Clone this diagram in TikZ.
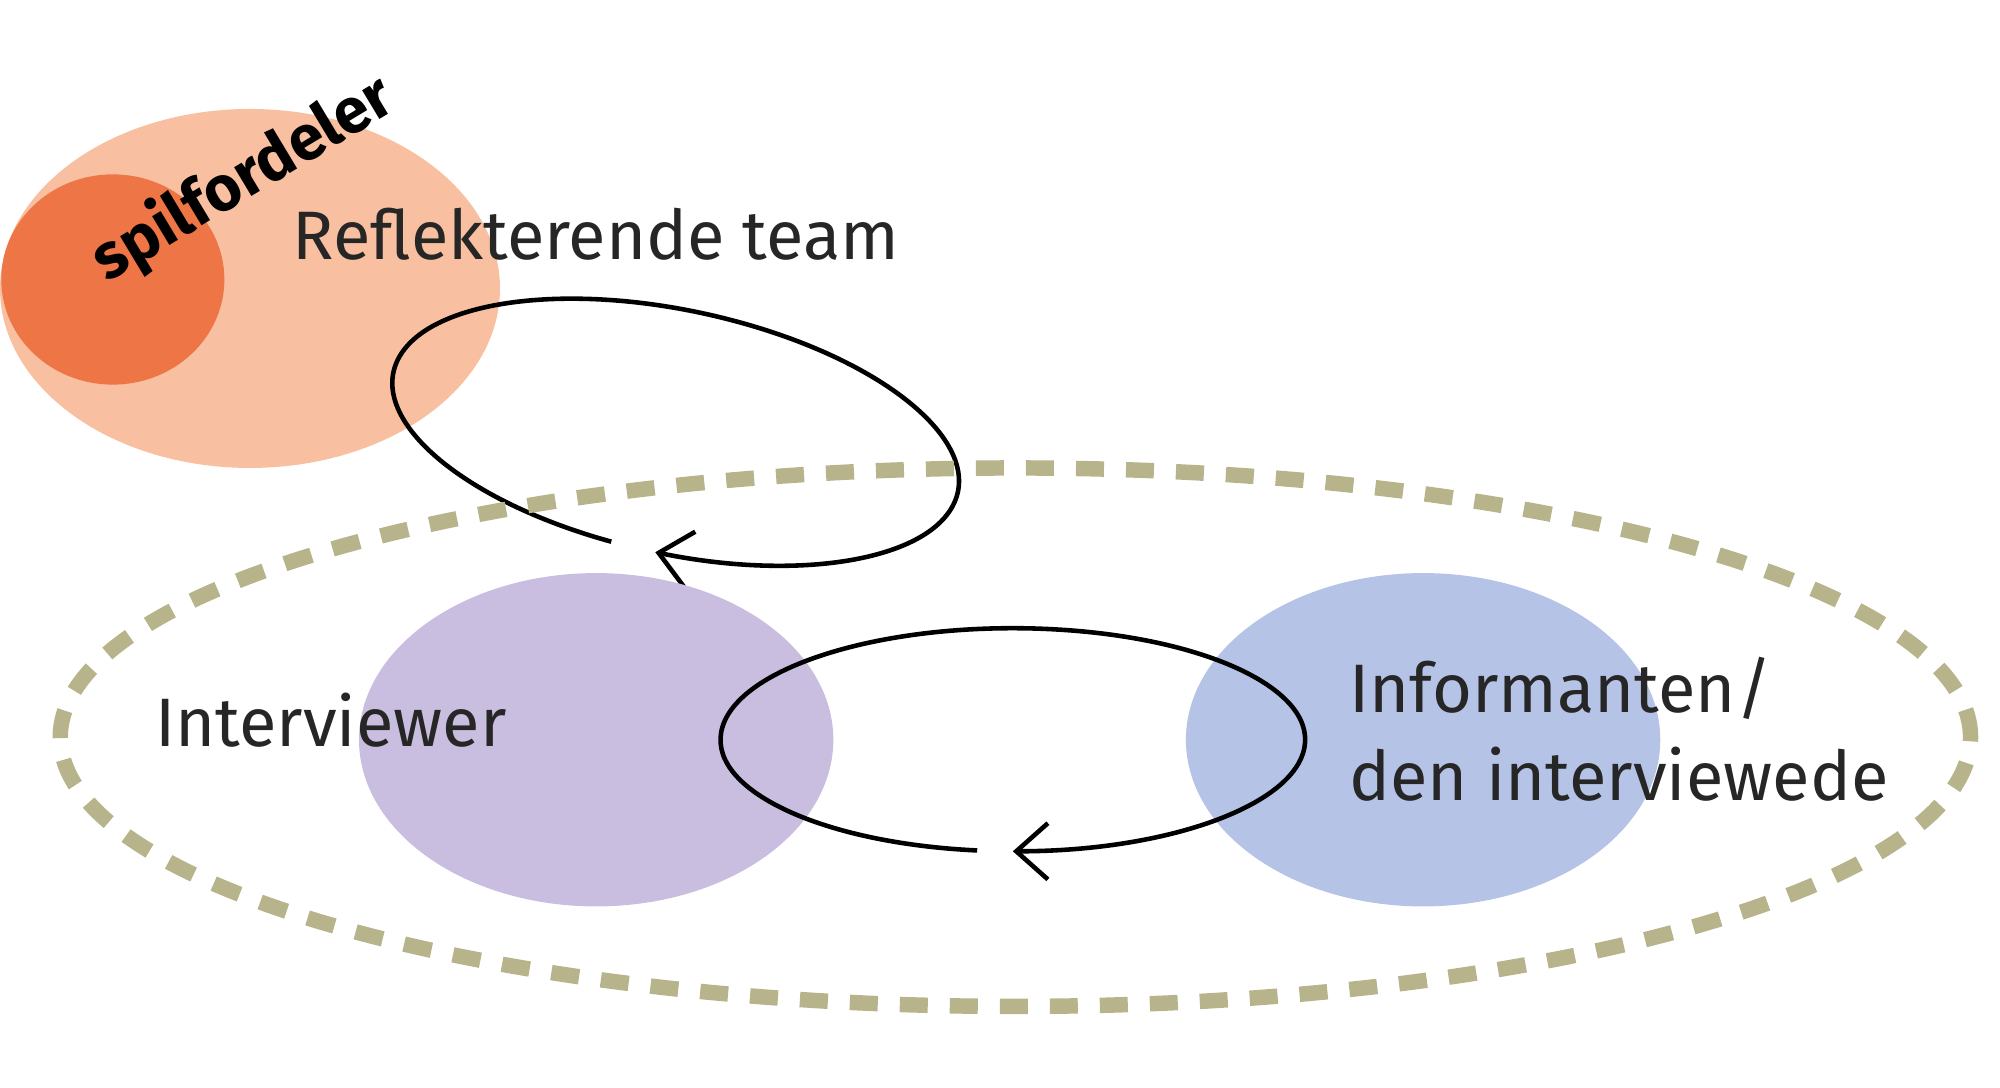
\documentclass[tikz,border=0pt]{standalone}
\usepackage{fontspec}
\setmainfont{Fira Sans}
\usetikzlibrary{arrows.meta,positioning}
\definecolor{peach}{HTML}{F8C0A0}
\definecolor{rust}{HTML}{EE7545}
\definecolor{lilac}{HTML}{C9BEE0}
\definecolor{sky}{HTML}{B5C3E6}
\definecolor{olive}{HTML}{B7B48C}
\tikzset{
  loopline/.style={line width=1.3pt, -{Straight Barb[length=9pt,width=16pt,line width=1.3pt]}},
  lbl/.style={font=\fontsize{19.5}{25}\selectfont, text=black!85}
}
\begin{document}
\begin{tikzpicture}[x=0.01282cm,y=0.01282cm]
            \useasboundingbox (0,0) rectangle (1560,848);
            % reflecting team
            \fill[peach] (195,623) ellipse [x radius=195, y radius=140];
            \fill[rust] (88,630) ellipse [x radius=87, y radius=82];
            \coordinate (c1) at (527,511);
            \begin{scope}[shift={(c1)}, rotate=-12]
              \draw[loopline] (-98:225 and 95) arc [start angle=-98, end angle=-449, x radius=225, y radius=95];
            \end{scope}
            % conversation
            \draw[olive, line width=4.4pt, dash pattern=on 0.28cm off 0.22cm] (792,273) ellipse [x radius=745, y radius=210];
            \fill[lilac] (465,271) ellipse [x radius=185, y radius=130];
            \fill[sky] (1110,271) ellipse [x radius=185, y radius=130];
            \coordinate (c2) at (790,271);
            \draw[loopline] (c2) ++(-97:228 and 87) arc [start angle=-97, end angle=-450, x radius=228, y radius=87];
            % labels
            \node[rotate=31, font=\bfseries\fontsize{18}{22}\selectfont] (spil) at (190,708) {spilfordeler};
            \node[lbl] (rt) at (465,665) {Reflekterende team};
            \node[lbl] (iv) at (258,286) {Interviewer};
            \node[lbl, anchor=west, align=left, inner sep=0pt] (inf) at (1052,279) {Informanten/\\den interviewede};
        \end{tikzpicture}
\end{document}
